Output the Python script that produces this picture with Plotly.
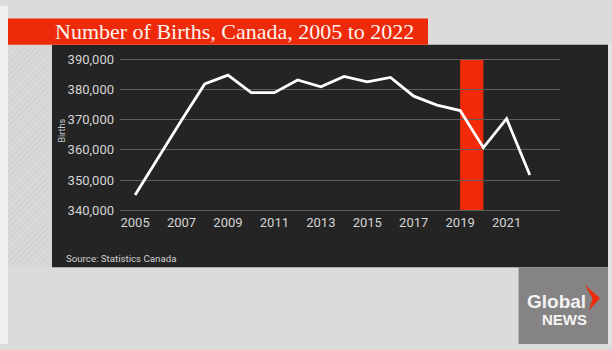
import plotly.graph_objects as go

# ---- data ----
years = list(range(2005, 2023))
births = [345100, 357500, 369800, 381800, 384700, 378900, 378900, 383100,
          380850, 384250, 382450, 383950, 377750, 374800, 373000, 360750,
          370300, 351700]
highlight_years = [2019, 2020]
y_ticks = [340000, 350000, 360000, 370000, 380000, 390000]
x_ticks = [2005, 2007, 2009, 2011, 2013, 2015, 2017, 2019, 2021]
title_text = "Number of Births, Canada, 2005 to 2022"
source_text = "Source: Statistics Canada"

W, H = 612, 350


def px(x):
    return x / W


def py(y):
    return 1 - y / H


# plot area pixel geometry
PL, PR = 120, 560
Y_TOP_VAL, Y_BOT_VAL = 390500, 339500
PT, PB = 53.4, 213.3

fig = go.Figure()

# hatched strip on the left (decorative), drawn as a patterned bar on its own axes
fig.add_trace(go.Bar(
    x=[0], y=[1], width=[1], xaxis="x2", yaxis="y2",
    marker=dict(color="#d6d4d5", line=dict(width=0),
                pattern=dict(shape="/", fgcolor="#e9e7e8", bgcolor="#d4d2d3",
                             size=4, solidity=0.3)),
    hoverinfo="skip", showlegend=False,
))

# main line
fig.add_trace(go.Scatter(
    x=years, y=births, mode="lines",
    line=dict(color="#ffffff", width=2.8),
    showlegend=False, hoverinfo="x+y",
))

shapes = [
    # left white strip
    dict(type="rect", xref="paper", yref="paper", x0=0, x1=px(8), y0=0, y1=1,
         fillcolor="#f0eff0", line=dict(width=0), layer="below"),
    # right light strip
    dict(type="rect", xref="paper", yref="paper", x0=px(608), x1=1, y0=0, y1=py(40),
         fillcolor="#e3e1e2", line=dict(width=0), layer="below"),
    # dark panel
    dict(type="rect", xref="paper", yref="paper", x0=px(52), x1=px(608), y0=py(270.5), y1=py(40),
         fillcolor="#242424", line=dict(width=0), layer="below"),
    # red title bar
    dict(type="rect", xref="paper", yref="paper", x0=px(8), x1=px(428), y0=py(40), y1=py(13),
         fillcolor="#ee2a0b", line=dict(width=0), layer="below"),
    # highlight bar (2019-2020)
    dict(type="rect", xref="x", yref="y", x0=highlight_years[0], x1=highlight_years[1],
         y0=y_ticks[0], y1=y_ticks[-1], fillcolor="#f12a0a", line=dict(width=0), layer="below"),
    # logo box
    dict(type="rect", xref="paper", yref="paper", x0=px(518.5), x1=px(608), y0=0, y1=py(270.5),
         fillcolor="#858384", line=dict(width=0), layer="above"),
]

# logo chevron
pts = [(585, 289), (600, 302.5), (589, 315), (592.5, 302.5)]
path = "M " + " L ".join(f"{px(a):.5f},{py(b):.5f}" for a, b in pts) + " Z"
shapes.append(dict(type="path", xref="paper", yref="paper", path=path,
                   fillcolor="#ee2a0b", line=dict(width=0), layer="above"))

annotations = [
    dict(text=title_text, xref="paper", yref="paper", x=px(53), y=py(26.5),
         xanchor="left", yanchor="middle", showarrow=False,
         font=dict(family="Liberation Serif", size=22, color="#fff4ee")),
    dict(text="Births", xref="paper", yref="paper", x=px(62), y=py(129),
         xanchor="center", yanchor="middle", showarrow=False, textangle=-90,
         font=dict(family="Roboto", size=9, color="#c9c9c9")),
    dict(text=source_text, xref="paper", yref="paper", x=px(64), y=py(261),
         xanchor="left", yanchor="middle", showarrow=False,
         font=dict(family="Roboto", size=9.7, color="#d0d0d0")),
    dict(text="<b>Global</b>", xref="paper", yref="paper", x=px(556), y=py(306),
         xanchor="center", yanchor="middle", showarrow=False,
         font=dict(family="Liberation Sans", size=19, color="#f4f4f4")),
    dict(text="<b>NEWS</b>", xref="paper", yref="paper", x=px(564.5), y=py(325),
         xanchor="center", yanchor="middle", showarrow=False,
         font=dict(family="Liberation Sans", size=15, color="#f4f4f4")),
]

fig.update_layout(
    width=W, height=H,
    margin=dict(l=0, r=0, t=0, b=0),
    paper_bgcolor="#dcdadb",
    plot_bgcolor="rgba(0,0,0,0)",
    shapes=shapes,
    annotations=annotations,
    bargap=0,
    xaxis=dict(
        domain=[px(PL), px(PR)], range=[2004.35, 2023.3],
        tickmode="array", tickvals=x_ticks, ticktext=[str(t) for t in x_ticks],
        showgrid=False, zeroline=False, showline=False,
        ticks="", ticklabelstandoff=1,
        tickfont=dict(family="Roboto", size=13, color="#d4d4d4"),
        anchor="y",
    ),
    yaxis=dict(
        domain=[py(PB), py(PT)], range=[Y_BOT_VAL, Y_TOP_VAL],
        tickmode="array", tickvals=y_ticks, tickformat=",d",
        showgrid=True, gridcolor="#5c5c5c", gridwidth=1,
        zeroline=False, showline=False, ticks="", ticklabelstandoff=5,
        tickfont=dict(family="Roboto", size=13, color="#d4d4d4"),
        anchor="x",
    ),
    xaxis2=dict(domain=[px(8), px(52)], range=[-0.5, 0.5], visible=False,
                fixedrange=True, anchor="y2"),
    yaxis2=dict(domain=[py(270.5), py(40)], range=[0, 1], visible=False,
                fixedrange=True, anchor="x2"),
)

fig.write_html("out.html")
